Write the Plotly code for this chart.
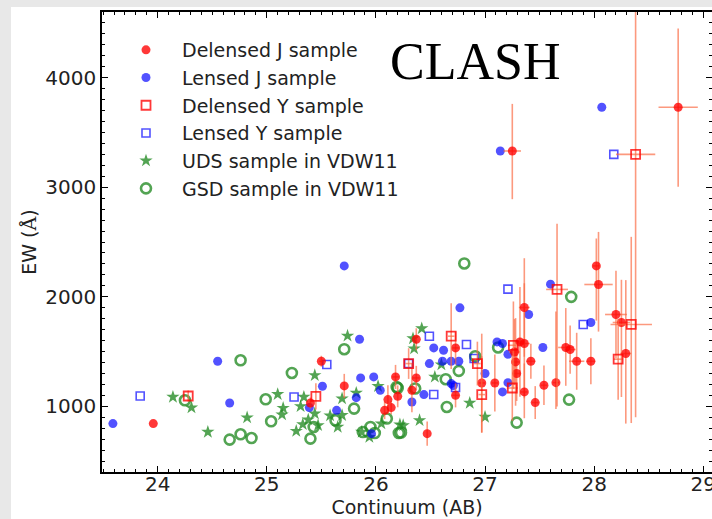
import plotly.graph_objects as go

# ---------------- data ----------------
# Delensed J sample (red filled circles) with asymmetric errors
dj_x = [23.96, 25.40, 25.50, 25.71, 26.08, 26.11, 26.14, 26.18, 26.20, 26.33, 26.37, 26.37, 26.47,
        26.73, 26.73, 26.97, 27.09, 27.25, 27.27, 27.28, 27.29, 27.32, 27.36, 27.36, 27.36, 27.42,
        27.46, 27.54, 27.65, 27.74, 27.78, 27.84, 27.97, 28.02, 28.04, 28.20, 28.25, 28.29, 28.77]
dj_y = [842, 1030, 1411, 1186, 963, 1061, 988, 1268, 1091, 1146, 1612, 1259, 750,
        1533, 1100, 1213, 1213, 3331, 1496, 1405, 1299, 1588, 1902, 1573, 1131, 1411,
        1034, 1192, 1216, 1537, 1518, 1411, 1411, 2282, 2112, 1838, 1765, 1482, 3730]
dj_eyp = [0, 50, 50, 110, 80, 130, 60, 110, 100, 250, 100, 110, 110,
          150, 110, 450, 260, 430, 300, 400, 250, 500, 450, 550, 260, 160,
          150, 180, 650, 360, 220, 260, 210, 250, 480, 400, 390, 670, 720]
dj_eym = [0, 50, 50, 110, 80, 130, 60, 110, 100, 200, 100, 110, 110,
          150, 110, 450, 260, 440, 300, 400, 250, 500, 450, 500, 240, 160,
          150, 180, 240, 350, 220, 260, 210, 500, 430, 400, 680, 640, 725]
dj_ex = [0, 0, 0.02, 0, 0, 0, 0, 0.03, 0, 0, 0, 0.03, 0,
         0.03, 0.03, 0.03, 0.03, 0.08, 0.05, 0.03, 0.03, 0.04, 0.05, 0.05, 0.03, 0.04,
         0.03, 0.03, 0.03, 0.07, 0.05, 0.07, 0.04, 0.03, 0.13, 0.10, 0.08, 0.05, 0.18]

# Lensed J sample (blue filled circles)
lj_x = [23.59, 24.55, 24.66, 25.39, 25.51, 25.64, 25.71, 25.82, 25.85, 25.86, 25.98, 26.04, 25.96,
        26.33, 26.44, 26.53, 26.62, 26.49, 26.61, 26.69, 26.76, 26.69, 26.71, 26.77, 27.00, 27.11,
        27.16, 27.21, 27.21, 27.16, 27.14, 27.40, 27.53, 27.60, 27.97, 28.07]
lj_y = [842, 1411, 1030, 988, 1183, 963, 2282, 1079, 1612, 1259, 1268, 1146, 750,
        1039, 1107, 1533, 1512, 1390, 1411, 1411, 1411, 1207, 1190, 1899, 1299, 1588,
        1573, 1475, 1216, 1131, 3331, 1838, 1537, 2115, 1765, 3730]

# Delensed Y sample (red open squares) with errors
dy_x = [24.28, 25.45, 26.30, 26.69, 26.93, 26.97, 27.25, 27.26, 27.66, 28.22, 28.34, 28.38]
dy_y = [1094, 1091, 1390, 1640, 1390, 1107, 1167, 1557, 2067, 1430, 1747, 3300]
dy_eyp = [50, 120, 140, 300, 200, 350, 300, 400, 600, 370, 800, 1500]
dy_eym = [50, 120, 140, 300, 200, 350, 300, 400, 1070, 370, 900, 2400]
dy_ex = [0, 0, 0.03, 0.03, 0.03, 0.03, 0.05, 0.05, 0.10, 0.04, 0.19, 0.18]

# Lensed Y sample (blue open squares)
ly_x = [23.84, 25.25, 25.55, 26.30, 26.49, 26.53, 26.73, 26.83, 26.90, 27.21, 27.90, 28.18]
ly_y = [1094, 1085, 1381, 1390, 1640, 1107, 1171, 1564, 1436, 2070, 1747, 3300]

# UDS sample in VDW11 (green stars)
uds_x = [24.14, 24.31, 24.46, 24.82, 25.10, 25.15, 25.14, 25.27, 25.31, 25.34, 25.33, 25.38, 25.44,
         25.44, 25.47, 25.58, 25.65, 25.69, 25.69, 25.74, 25.82, 25.87, 25.94, 26.02, 26.05, 26.22,
         26.34, 26.35, 26.42, 26.54, 26.60, 26.86, 27.00, 26.40, 26.25]
uds_y = [1085, 988, 765, 897, 1110, 984, 924, 774, 1000, 1085, 835, 878, 933,
         1283, 826, 915, 811, 1070, 918, 1643, 1122, 765, 719, 1183, 842, 833,
         1619, 1527, 1710, 1268, 1381, 1030, 902, 872, 826]

# GSD sample in VDW11 (green open circles)
gsd_x = [24.25, 24.66, 24.76, 24.86, 24.76, 24.99, 25.04, 25.23, 25.40, 25.43, 25.63, 25.71, 25.80,
         25.88, 25.95, 25.99, 26.21, 26.19, 26.81, 26.76, 26.91, 26.64, 26.20, 26.36, 26.65, 26.10,
         26.23, 27.12, 27.29, 27.77, 27.79]
gsd_y = [1055, 696, 744, 710, 1420, 1064, 863, 1304, 705, 811, 872, 1521, 979,
         765, 811, 756, 756, 1176, 2304, 1323, 1457, 1247, 1167, 1162, 994, 888,
         760, 1537, 851, 1061, 1999]

x_ticks = [24, 25, 26, 27, 28, 29]
y_ticks = [1000, 2000, 3000, 4000]

# ---------------- styling ----------------
RED = "rgba(255,0,0,0.78)"
BLUE = "rgba(0,0,255,0.68)"
GREEN = "rgba(34,139,34,0.78)"
ERR = "rgba(250,105,65,0.68)"
FONT = "DejaVu Sans"

fig = go.Figure()

fig.add_trace(go.Scatter(
    x=uds_x, y=uds_y, mode="markers", name="UDS sample in VDW11", legendrank=5,
    marker=dict(symbol="star", size=10, color=GREEN, line=dict(width=0))))
fig.add_trace(go.Scatter(
    x=gsd_x, y=gsd_y, mode="markers", name="GSD sample in VDW11", legendrank=6,
    marker=dict(symbol="circle-open", size=10, color=GREEN, line=dict(width=2.6, color=GREEN))))
fig.add_trace(go.Scatter(
    x=lj_x, y=lj_y, mode="markers", name="Lensed J sample", legendrank=2,
    marker=dict(symbol="circle", size=9, color=BLUE, line=dict(width=0))))
fig.add_trace(go.Scatter(
    x=ly_x, y=ly_y, mode="markers", name="Lensed Y sample", legendrank=4,
    marker=dict(symbol="square-open", size=8, color=BLUE, line=dict(width=1.6, color=BLUE))))
fig.add_trace(go.Scatter(
    x=dj_x, y=dj_y, mode="markers", name="Delensed J sample", legendrank=1,
    error_y=dict(type="data", symmetric=False, array=dj_eyp, arrayminus=dj_eym,
                 color=ERR, thickness=1.6, width=0),
    error_x=dict(type="data", array=dj_ex, color=ERR, thickness=1.6, width=0),
    marker=dict(symbol="circle", size=9, color=RED, line=dict(width=0))))
fig.add_trace(go.Scatter(
    x=dy_x, y=dy_y, mode="markers", name="Delensed Y sample", legendrank=3,
    error_y=dict(type="data", symmetric=False, array=dy_eyp, arrayminus=dy_eym,
                 color=ERR, thickness=1.6, width=0),
    error_x=dict(type="data", array=dy_ex, color=ERR, thickness=1.6, width=0),
    marker=dict(symbol="square-open", size=9, color=RED, line=dict(width=1.8, color=RED))))

W, H = 712, 519
ML, MR, MT, MB = 102, 0, 12, 47
PW, PH = W - ML - MR, H - MT - MB

def px_x(p):
    return (p - ML) / PW

def px_y(p):
    return (H - MB - p) / PH

fig.update_layout(
    width=W, height=H,
    margin=dict(l=ML, r=MR, t=MT, b=MB, pad=0, autoexpand=False),
    paper_bgcolor="#e8e8e8",
    plot_bgcolor="white",
    font=dict(family=FONT, color="#222222"),
    showlegend=True,
    legend=dict(
        x=px_x(110), y=px_y(31), xanchor="left", yanchor="top",
        bgcolor="rgba(0,0,0,0)", borderwidth=0,
        font=dict(family=FONT, size=19, color="#222222"),
        itemwidth=62, tracegroupgap=0, traceorder="normal",
    ),
    shapes=[dict(type="rect", xref="paper", yref="paper",
                 x0=px_x(11), x1=1.1, y0=-0.3, y1=px_y(7),
                 fillcolor="white", line=dict(width=0), layer="below")],
    annotations=[
        dict(text="CLASH", xref="paper", yref="paper", x=px_x(475), y=px_y(61),
             xanchor="center", yanchor="middle", showarrow=False,
             font=dict(family="Liberation Serif", size=52, color="black")),
    ],
)

fig.update_xaxes(
    range=[23.49, 29.08], tickvals=x_ticks, ticktext=[str(v) for v in x_ticks],
    ticks="inside", ticklen=6, tickwidth=1.2, tickcolor="black",
    minor=dict(dtick=0.1, ticks="inside", ticklen=3, tickcolor="black", tickwidth=1),
    showline=True, linecolor="black", linewidth=1.5, mirror="ticks",
    showgrid=False, zeroline=False, ticklabeloverflow="allow", ticklabelstandoff=-7,
    automargin=False,
    tickfont=dict(family=FONT, size=20, color="#222222"),
    title=dict(text="Continuum (AB)", font=dict(family=FONT, size=19, color="#222222"), standoff=2),
)
fig.update_yaxes(
    range=[400, 4600], tickvals=y_ticks, ticktext=[str(v) for v in y_ticks],
    ticks="inside", ticklen=6, tickwidth=1.2, tickcolor="black",
    minor=dict(dtick=100, ticks="inside", ticklen=3, tickcolor="black", tickwidth=1),
    showline=True, linecolor="black", linewidth=1.5, mirror="ticks",
    showgrid=False, zeroline=False, automargin=False,
    tickfont=dict(family=FONT, size=20, color="#222222"),
    title=dict(text="EW (<span style='font-family:DejaVu Serif'>Å</span>)",
               font=dict(family=FONT, size=19, color="#222222"), standoff=4),
)

fig.write_html("out.html")
